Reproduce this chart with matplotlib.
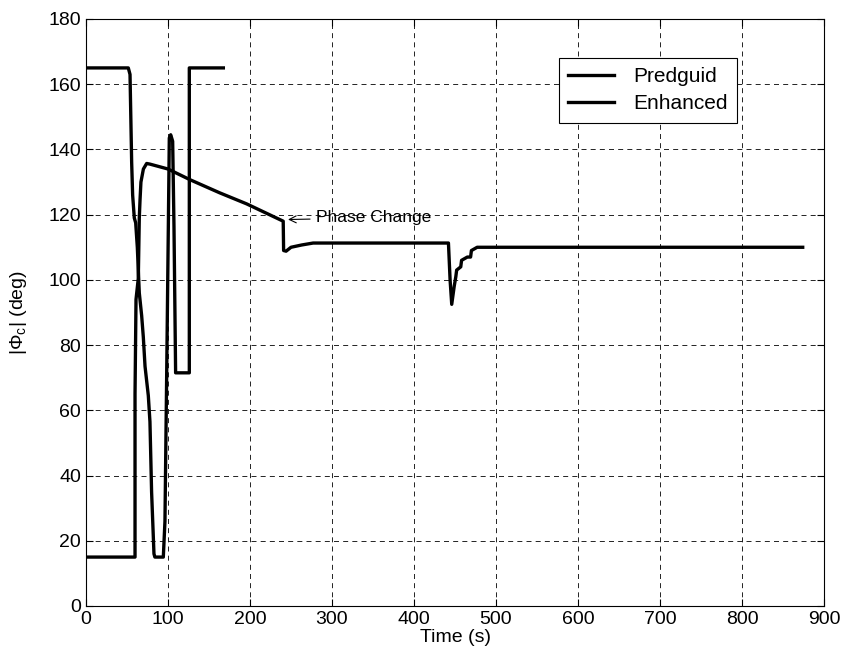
import matplotlib.pyplot as plt

plt.rcParams['font.family'] = ['Liberation Sans', 'DejaVu Sans']
plt.rcParams['mathtext.fontset'] = 'custom'
plt.rcParams['mathtext.rm'] = 'Liberation Sans'
plt.rcParams['mathtext.it'] = 'Liberation Sans:italic'

# Predguid trace
t_pred = [0, 51.6, 53.7, 55.7, 56.9, 58.9, 60.6, 62.6, 65, 67.9, 69.9, 72, 76, 78, 80,
          82.9, 84, 94.3, 96.3, 98.4, 100.4, 101.6, 103.3, 105.7, 107.3, 109.3, 126, 126, 167.5]
phi_pred = [165, 165, 163, 136, 126, 119, 117.5, 110, 96, 89, 82.5, 73.5, 64.5, 56.5, 35,
            16, 15, 15, 26, 71, 116, 143.5, 144.5, 142.5, 116.5, 71.5, 71.5, 165, 165]

# Enhanced trace
t_enh = [0, 59.8, 59.8, 61, 63.8, 65, 65.9, 67, 70, 74, 78, 100, 127, 163, 196, 240.5,
         241, 244, 250, 263, 277, 300, 442, 444, 446, 449, 451, 452, 457, 458, 465, 469,
         470, 477, 874]
phi_enh = [15, 15, 65, 94, 100.5, 119, 124.5, 130, 134, 135.7, 135.5, 134, 130.7, 126.7,
           123.3, 118, 109, 108.8, 110, 110.7, 111.3, 111.3, 111.3, 100, 92.5, 98, 101,
           103, 104, 106, 107, 107, 109, 110, 110]

xticks = list(range(0, 901, 100))
yticks = list(range(0, 181, 20))

fig = plt.figure(figsize=(8.43, 6.62), dpi=100)
ax = fig.add_axes([0.102, 0.0846, 0.8755, 0.8867])

ax.plot(t_pred, phi_pred, color='black', lw=2.4, label='Predguid')
ax.plot(t_enh, phi_enh, color='black', lw=2.4, label='Enhanced')

ax.set_xlim(0, 900)
ax.set_ylim(0, 180)
ax.set_xticks(xticks)
ax.set_yticks(yticks)
ax.tick_params(direction='in', top=True, right=True, labelsize=14, length=5)
ax.grid(True, color='black', linestyle=(0, (6, 5)), linewidth=0.6)
for s in ax.spines.values():
    s.set_linewidth(0.8)

ax.set_xlabel('Time (s)', fontsize=14, labelpad=1)
ax.set_ylabel(r'|Φ$_\mathrm{c}$| (deg)', fontsize=14, labelpad=14)

ax.annotate('Phase Change', xy=(243, 118.5), xytext=(280, 119), fontsize=12.5,
            va='center', arrowprops=dict(arrowstyle='->', color='black', lw=0.8))

leg = ax.legend(loc='upper right', bbox_to_anchor=(0.882, 0.934), borderaxespad=0,
                fontsize=15, fancybox=False, framealpha=1, edgecolor='black',
                handlelength=2.2, handletextpad=0.9, borderpad=0.45, labelspacing=0.4)
leg.get_frame().set_linewidth(0.8)

fig.savefig('out.png', dpi=100)
